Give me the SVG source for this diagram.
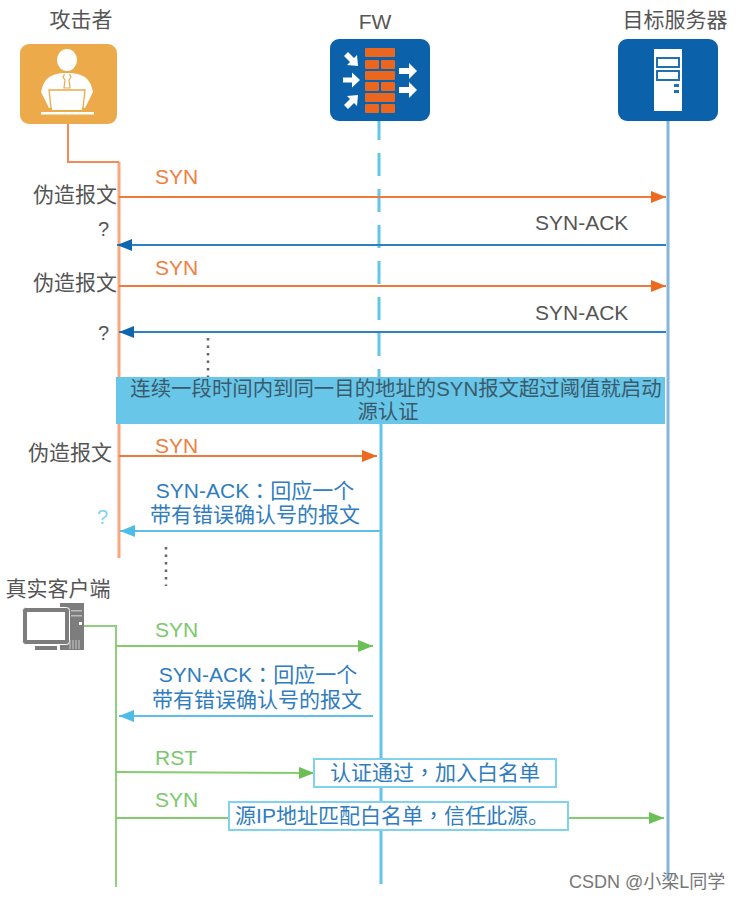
<svg xmlns="http://www.w3.org/2000/svg" width="741" height="900" viewBox="0 0 741 900">
<style>
text{font-family:"Liberation Sans","Noto Sans CJK SC",sans-serif;font-size:21px}
.p{font-family:"Noto Sans CJK TC",sans-serif}
.g{fill:#555}.o{fill:#F08040}.b{fill:#2F7DBE}.n{fill:#7CC86C}
.m{text-anchor:middle}
.q{font-size:20px}
.lo{stroke:#F07A3C;stroke-width:2;fill:none}.lb{stroke:#2E82C4;stroke-width:2;fill:none}.lc{stroke:#5CC0E8;stroke-width:2;fill:none}.ln{stroke:#84CC70;stroke-width:2;fill:none}
.dot{stroke:#666;stroke-width:2.500;stroke-dasharray:2.500 5;fill:none}
.note{fill:#fff;stroke:#7FD3F0;stroke-width:2}
.ban{fill:#3A5A6C;font-size:20.400px}
</style>
<defs>
<marker id="ao" markerUnits="userSpaceOnUse" markerWidth="16" markerHeight="12" refX="15" refY="6" orient="auto"><path d="M0 0L15 6L0 12z" fill="#EE6A1E"/></marker>
<marker id="ab" markerUnits="userSpaceOnUse" markerWidth="16" markerHeight="12" refX="15" refY="6" orient="auto"><path d="M0 0L15 6L0 12z" fill="#0F65AE"/></marker>
<marker id="ac" markerUnits="userSpaceOnUse" markerWidth="16" markerHeight="12" refX="15" refY="6" orient="auto"><path d="M0 0L15 6L0 12z" fill="#4DBDE8"/></marker>
<marker id="an" markerUnits="userSpaceOnUse" markerWidth="16" markerHeight="12" refX="15" refY="6" orient="auto"><path d="M0 0L15 6L0 12z" fill="#6ABF55"/></marker>
</defs>
<rect width="741" height="900" fill="#fff"/>
<g id="connectors">
<path d="M379 117V378" stroke="#62C6EA" stroke-width="3" stroke-dasharray="23 13" fill="none"/>
<path d="M381 424V884" stroke="#62C6EA" stroke-width="3" fill="none"/>
<path d="M668 121V880" stroke="#86B6DC" stroke-width="3" fill="none"/>
<path d="M119 162V558" stroke="#F8A67E" stroke-width="3" fill="none"/>
<path d="M68 124V162H119" stroke="#F58A58" stroke-width="2" fill="none"/>
<path d="M84 626H116V887" stroke="#8FD07F" stroke-width="2" fill="none"/>
<path class="lo" d="M119 197H666" marker-end="url(#ao)"/>
<path class="lb" d="M666 245H117" marker-end="url(#ab)"/>
<path class="lo" d="M119 286H666" marker-end="url(#ao)"/>
<path class="lb" d="M666 332H119" marker-end="url(#ab)"/>
<path class="dot" d="M208 338V378"/>
<path class="lo" d="M119 456H377" marker-end="url(#ao)"/>
<path class="lc" d="M380 531H120" marker-end="url(#ac)"/>
<path class="dot" d="M166 547V586"/>
<path class="ln" d="M116 646H373" marker-end="url(#an)"/>
<path class="lc" d="M373 716H119" marker-end="url(#ac)"/>
<path class="ln" d="M116 772L314 773" marker-end="url(#an)"/>
<path class="ln" d="M116 818H230"/>
<path class="ln" d="M568 818H664" marker-end="url(#an)"/>
</g>
<g id="attacker">
<text class="g m" x="81" y="27">攻击者</text>
<rect x="20" y="44" width="97" height="80" rx="9" fill="#ECAA4B"/>
<ellipse cx="67" cy="60" rx="10" ry="11" fill="#fff"/>
<path d="M41 92Q43 82 48 78Q53 74 62 73H72Q81 74 86 78Q91 82 93 92L85 108H49Z" fill="#fff"/>
<path d="M64.500 74L63 77L65 80L64 88H70L69 80L71 77L69.500 74" fill="none" stroke="#ECAA4B" stroke-width="1.200"/>
<path d="M49 90H85L83 108H51Z" fill="#fff" stroke="#ECAA4B" stroke-width="1.300"/>
<rect x="52" y="107" width="30" height="3" fill="#fff"/>
<rect x="41" y="112" width="53" height="2.500" fill="#fff"/>
</g>
<g id="fw">
<text class="g m" x="375" y="29">FW</text>
<rect x="330" y="39" width="100" height="82" rx="9" fill="#0B62AA"/>
<g fill="#EB661E">
<rect x="365" y="48" width="30" height="9" rx="1"/><rect x="365" y="60" width="14" height="9" rx="1"/><rect x="381" y="60" width="14" height="9" rx="1"/>
<rect x="365" y="71" width="30" height="9" rx="1"/><rect x="365" y="82" width="14" height="9" rx="1"/><rect x="381" y="82" width="14" height="9" rx="1"/>
<rect x="365" y="93" width="30" height="9" rx="1"/><rect x="365" y="104" width="14" height="9" rx="1"/><rect x="381" y="104" width="14" height="9" rx="1"/>
</g>
<g fill="#fff">
<path d="M343 77.500h9v-5l8 7.500-8 7.500v-5h-9z"/>
<path d="M399 68h10v-5l8 8-8 8v-5h-10z"/>
<path d="M399 87h10v-5l8 8-8 8v-5h-10z"/>
<path d="M344 56l4-4 6 6 3-3 1 11-11-1 3-3z"/>
<path d="M348 109l-4-4 6-6-3-3 11-1-1 11-3-3z"/>
</g>
</g>
<g id="server">
<text class="g m" x="675" y="27">目标服务器</text>
<rect x="618" y="39" width="100" height="82" rx="9" fill="#0B62AA"/>
<rect x="654" y="49" width="28" height="62" fill="#fff"/>
<rect x="657" y="58" width="22" height="9" fill="#fff" stroke="#1E72B4" stroke-width="2"/>
<rect x="657" y="71" width="22" height="9" fill="#fff" stroke="#1E72B4" stroke-width="2"/>
<rect x="674" y="84" width="5" height="3" fill="#1E72B4"/>
<rect x="674" y="90" width="5" height="3" fill="#1E72B4"/>
</g>
<g id="client">
<text class="g m" x="58" y="596">真实客户端</text>
<rect x="60" y="603" width="24" height="47" fill="#7d7d7d"/>
<rect x="22.500" y="607.500" width="47" height="37" rx="3" fill="#7d7d7d" stroke="#fff" stroke-width="1"/>
<rect x="27" y="612" width="38" height="28" fill="#fff"/>
<rect x="35" y="646" width="22" height="4" fill="#7d7d7d"/>
<rect x="71" y="610" width="11" height="1.500" fill="#bbb"/>
<rect x="71" y="615" width="11" height="1.500" fill="#bbb"/>
<rect x="79" y="622" width="3" height="3" fill="#fff"/>
<path d="M70 640V649M73 640V649M76 640V649M79 640V649" stroke="#ccc" stroke-width="1"/>
</g>
<g id="labels">
<text class="o" x="155" y="184">SYN</text>
<text class="g" x="33" y="202">伪造报文</text>
<text class="g" x="535" y="230">SYN-ACK</text>
<text class="g q" x="98" y="236">?</text>
<text class="o" x="155" y="275">SYN</text>
<text class="g" x="33" y="290">伪造报文</text>
<text class="g" x="535" y="320">SYN-ACK</text>
<text class="g q" x="98" y="340">?</text>
<text class="o" x="155" y="453">SYN</text>
<text class="g" x="28" y="460">伪造报文</text>
<text class="b m" x="255" y="498">SYN-ACK<tspan class="p">：</tspan>回应一个</text>
<text class="b m" x="255" y="522">带有错误确认号的报文</text>
<text class="q" x="97" y="524" style="fill:#7FD3F0">?</text>
<text class="n" x="155" y="637">SYN</text>
<text class="b m" x="258" y="682">SYN-ACK<tspan class="p">：</tspan>回应一个</text>
<text class="b m" x="257" y="707">带有错误确认号的报文</text>
<text class="n" x="155" y="765">RST</text>
<text class="n" x="155" y="807">SYN</text>
</g>
<g id="banner">
<rect x="116" y="377" width="549" height="47" fill="#68C6E8"/>
<text class="m ban" x="396" y="396">连续一段时间内到同一目的地址的SYN报文超过阈值就启动</text>
<text class="m ban" x="388" y="419">源认证</text>
</g>
<g id="note-auth">
<rect class="note" x="314" y="759" width="242" height="28"/>
<text class="b m" x="435" y="780">认证通过<tspan class="p">，</tspan>加入白名单</text>
</g>
<g id="note-trust">
<rect class="note" x="229" y="802" width="339" height="28"/>
<text class="b m" x="392" y="823">源IP地址匹配白名单<tspan class="p">，</tspan>信任此源。</text>
</g>
<text x="569" y="888" style="font-size:18px;fill:#777">CSDN @小梁L同学</text>
</svg>
